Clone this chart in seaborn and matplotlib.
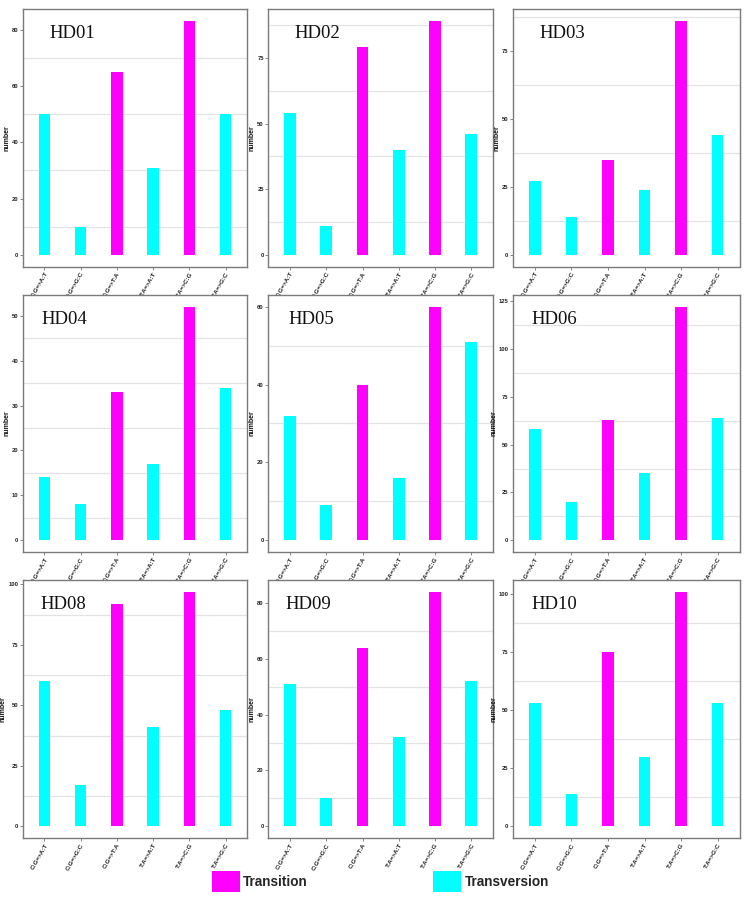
import numpy as np
import pandas as pd
import matplotlib
matplotlib.use("Agg")
import matplotlib.pyplot as plt
from matplotlib.ticker import MultipleLocator, FixedLocator
from matplotlib.patches import Patch
import seaborn as sns

sns.set_theme(style="white")
plt.rcParams['font.family'] = ['Liberation Sans', 'DejaVu Sans']

# ---------------- data ----------------
mutations = ["C:G=>A:T", "C:G=>G:C", "C:G=>T:A", "T:A=>A:T", "T:A=>C:G", "T:A=>G:C"]
mut_type = ["Transversion", "Transversion", "Transition", "Transversion", "Transition", "Transversion"]
samples = ["HD01", "HD02", "HD03", "HD04", "HD05", "HD06", "HD08", "HD09", "HD10"]

HD01 = [50, 10, 65, 31, 83, 50]
HD02 = [54, 11, 79, 40, 89, 46]
HD03 = [27, 14, 35, 24, 86, 44]
HD04 = [14, 8, 33, 17, 52, 34]
HD05 = [32, 9, 40, 16, 60, 51]
HD06 = [58, 20, 63, 35, 122, 64]
HD08 = [60, 17, 92, 41, 97, 48]
HD09 = [51, 10, 64, 32, 84, 52]
HD10 = [53, 14, 75, 30, 101, 53]
values = [HD01, HD02, HD03, HD04, HD05, HD06, HD08, HD09, HD10]

# tick step per panel (axis styling)
tick_steps = [20, 25, 25, 10, 20, 25, 25, 20, 25]

palette = {"Transition": "#FF00FF", "Transversion": "#00FFFF"}

# ---------------- layout ----------------
W, H = 747, 901
fig = plt.figure(figsize=(W / 100, H / 100), dpi=100)

col_x = [(22.7, 247.3), (268.3, 493.0), (513.0, 739.5)]
row_y = [(9.5, 266.5), (295.0, 552.0), (580.0, 838.0)]
title_x = [0.12, 0.117, 0.115, 0.085, 0.09, 0.08, 0.078, 0.075, 0.082]

for i, (name, vals) in enumerate(zip(samples, values)):
    r, c = divmod(i, 3)
    x0, x1 = col_x[c]
    y0, y1 = row_y[r]
    ax = fig.add_axes([x0 / W, 1 - y1 / H, (x1 - x0) / W, (y1 - y0) / H])
    df = pd.DataFrame({"mutation": mutations, "number": vals, "type": mut_type})
    sns.barplot(data=df, x="mutation", y="number", hue="type", palette=palette,
                dodge=False, width=0.32, legend=False, ax=ax, saturation=1,
                edgecolor="none")
    vmax = max(vals)
    ax.set_ylim(-0.05 * vmax, 1.05 * vmax)
    ax.set_xlim(-0.6, len(mutations) - 0.4)
    step = tick_steps[i]
    ax.yaxis.set_major_locator(MultipleLocator(step))
    ax.yaxis.set_minor_locator(FixedLocator(np.arange(step / 2, 1.05 * vmax, step)))
    ax.grid(False)
    ax.grid(which="minor", axis="y", color="#E3E3E3", linewidth=0.9)
    ax.set_axisbelow(True)
    for s in ax.spines.values():
        s.set_color("#7A7A7A")
        s.set_linewidth(1.0)
    ax.tick_params(axis="both", which="major", length=2, width=0.5, color="#555555",
                   labelsize=4.2, pad=1.2, labelcolor="#222222")
    ax.tick_params(axis="y", which="minor", length=0)
    ax.tick_params(axis="x", which="major", bottom=True, left=False)
    ax.tick_params(axis="y", which="major", left=True)
    for lab in ax.get_xticklabels():
        lab.set_rotation(60)
        lab.set_ha("right")
        lab.set_rotation_mode("anchor")
        lab.set_fontsize(4.5)
        lab.set_fontweight("bold")
    for lab in ax.get_yticklabels():
        lab.set_fontweight("bold")
    ax.set_xlabel("")
    ax.set_ylabel("number", fontsize=5, fontweight="bold", labelpad=1, color="#111111")
    ax.text(title_x[i], 0.905, name, transform=ax.transAxes, fontsize=13.5,
            family="Liberation Serif", va="center", ha="left", color="#111111")

handles = [Patch(facecolor=palette["Transition"], edgecolor="none", label="Transition"),
           Patch(facecolor=palette["Transversion"], edgecolor="none", label="Transversion")]
leg = fig.legend(handles=handles, loc="center left",
                 bbox_to_anchor=(212 / W, 1 - 881.5 / H), ncol=2, frameon=False,
                 prop={"family": "Liberation Sans", "weight": "bold", "size": 9.8},
                 handlelength=2.05, handleheight=2.05, handletextpad=0.25,
                 columnspacing=9.2, borderpad=0, borderaxespad=0)

fig.savefig("out.png", dpi=100)
